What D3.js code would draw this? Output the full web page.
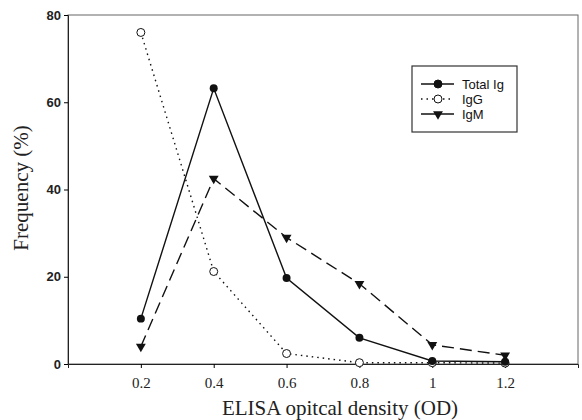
<!DOCTYPE html>
<html>
<head>
<meta charset="utf-8">
<script src="https://cdn.jsdelivr.net/npm/d3@7"></script>
<style>
body{margin:0;background:#fff}
</style>
</head>
<body>
<div id="chart"></div>
<script>

// DATA

const odValues = [0.2,0.4,0.6,0.8,1.0,1.2]
const totalIg = [10.4,63.2,19.7,6.0,0.7,0.5]
const igG = [76.0,21.2,2.4,0.3,0.3,0.2]
const igM = [4.0,42.5,29.0,18.4,4.4,2.0]
const xTicks = [0.2,0.4,0.6,0.8,1,1.2]
const yTicks = [0,20,40,60,80]
const seriesNames = ["Total Ig","IgG","IgM"]


const width = 582
const height = 420
const margin = {top:15,right:4,bottom:56,left:68}

const svg = d3.select("#chart")
.append("svg")
.attr("width",width)
.attr("height",height)

const x = d3.scaleLinear()
.domain([0,1.4])
.range([margin.left,width-margin.right])

const y = d3.scaleLinear()
.domain([0,80])
.range([height-margin.bottom,margin.top])


// FRAME

svg.append("rect")
.attr("x",x(0))
.attr("y",y(80))
.attr("width",x(1.4)-x(0))
.attr("height",y(0)-y(80))
.attr("fill","none")
.attr("stroke","#666")
.attr("stroke-width",1)


// AXES

const xAxis = svg.append("g")
.attr("transform",`translate(0,${y(0)})`)
.call(d3.axisBottom(x).tickValues(xTicks).tickSize(4).tickFormat(d3.format("")))

xAxis.select(".domain").attr("stroke","#222")
xAxis.selectAll("text")
.attr("font-family","Liberation Serif, Times New Roman, serif")
.attr("font-size",15)
.attr("fill","#222")
.attr("dy","1.15em")

const yAxis = svg.append("g")
.attr("transform",`translate(${x(0)},0)`)
.call(d3.axisLeft(y).tickValues(yTicks).tickSize(4))

yAxis.select(".domain").attr("stroke","#222")
yAxis.selectAll("text")
.attr("font-family","Liberation Sans, Arial, sans-serif")
.attr("font-size",13)
.attr("font-weight","bold")
.attr("fill","#222")


// AXIS TITLES

svg.append("text")
.attr("x",340)
.attr("y",415)
.attr("text-anchor","middle")
.attr("font-family","Liberation Serif, Times New Roman, serif")
.attr("font-size",21)
.attr("fill","#222")
.text("ELISA opitcal density (OD)")

svg.append("text")
.attr("transform",`translate(28,188) rotate(-90)`)
.attr("text-anchor","middle")
.attr("font-family","Liberation Serif, Times New Roman, serif")
.attr("font-size",21)
.attr("fill","#222")
.text("Frequency (%)")


// LINES

function drawLine(values,dash){
const line = d3.line()
.x((d,i)=>x(odValues[i]))
.y(d=>y(d))

svg.append("path")
.datum(values)
.attr("fill","none")
.attr("stroke","#111")
.attr("stroke-width",1.4)
.attr("stroke-dasharray",dash)
.attr("d",line)
}

drawLine(totalIg,null)
drawLine(igG,"1.5,4")
drawLine(igM,"12,6")


// MARKERS

const circle = d3.symbol().type(d3.symbolCircle).size(50)
const tri = d3.symbol().type(d3.symbolTriangle).size(42)

svg.selectAll(".igg")
.data(igG)
.enter()
.append("path")
.attr("d",circle)
.attr("transform",(d,i)=>`translate(${x(odValues[i])},${y(d)})`)
.attr("fill","white")
.attr("stroke","#111")
.attr("stroke-width",1)

svg.selectAll(".total")
.data(totalIg)
.enter()
.append("path")
.attr("d",circle)
.attr("transform",(d,i)=>`translate(${x(odValues[i])},${y(d)})`)
.attr("fill","#111")

svg.selectAll(".igm")
.data(igM)
.enter()
.append("path")
.attr("d",tri)
.attr("transform",(d,i)=>`translate(${x(odValues[i])},${y(d)}) rotate(180)`)
.attr("fill","#111")


// LEGEND

const legend = svg.append("g")
.attr("transform","translate(412,66)")

legend.append("rect")
.attr("width",105)
.attr("height",66)
.attr("fill","white")
.attr("stroke","#333")
.attr("stroke-width",1.2)

const dashes = [null,"1.5,4",null]

seriesNames.forEach((name,i)=>{
const ly = 18+i*15
legend.append("line")
.attr("x1",9)
.attr("x2",42)
.attr("y1",ly)
.attr("y2",ly)
.attr("stroke","#111")
.attr("stroke-width",1.3)
.attr("stroke-dasharray",dashes[i])

let m = legend.append("path")
.attr("stroke","#111")
if(i==0){
m.attr("d",circle).attr("fill","#111").attr("transform",`translate(26,${ly})`)
}else if(i==1){
m.attr("d",circle).attr("fill","white").attr("transform",`translate(26,${ly})`)
}else{
m.attr("d",tri).attr("fill","#111").attr("stroke",null).attr("transform",`translate(26,${ly}) rotate(180)`)
}

legend.append("text")
.attr("x",50)
.attr("y",ly+5)
.attr("font-family","Liberation Sans, Arial, sans-serif")
.attr("font-size",13)
.attr("fill","#111")
.text(name)
})

</script>
</body>
</html>
